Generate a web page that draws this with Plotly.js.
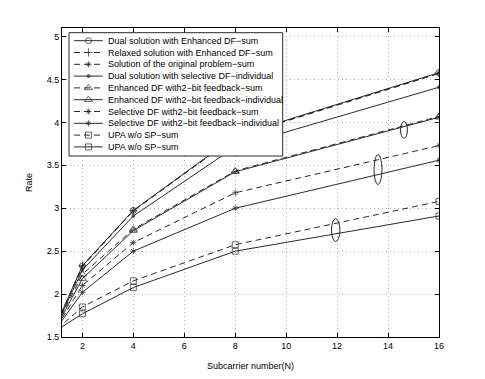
<!DOCTYPE html>
<html>
<head>
<meta charset="utf-8">
<script src="https://cdn.plot.ly/plotly-3.0.1.min.js"></script>
<style>html,body{margin:0;padding:0;background:#fff;}#chart{width:485px;height:379px;}</style>
</head>
<body>
<div id="chart"></div>
<script>
// ---- data ----
const subcarriers = [1, 2, 4, 8, 16];
const dualEnhSum    = [1.66, 2.33, 2.975, 3.84, 4.58];
const relaxedEnhSum = [1.66, 2.33, 2.97, 3.835, 4.575];
const originalSum   = [1.66, 2.32, 2.97, 3.83, 4.57];
const dualSelInd    = [1.65, 2.28, 2.91, 3.715, 4.41];
const enh2bitSum    = [1.64, 2.23, 2.755, 3.435, 4.07];
const enh2bitInd    = [1.63, 2.18, 2.74, 3.425, 4.06];
const sel2bitSum    = [1.62, 2.10, 2.60, 3.18, 3.73];
const sel2bitInd    = [1.61, 2.02, 2.50, 3.00, 3.56];
const upaSumA       = [1.59, 1.85, 2.154, 2.575, 3.08];
const upaSumB       = [1.58, 1.77, 2.076, 2.50, 2.91];
const seriesNames = [
  "Dual solution with Enhanced DF\u2212sum",
  "Relaxed solution with Enhanced DF\u2212sum",
  "Solution of the original problem\u2212sum",
  "Dual solution with selective DF\u2212individual",
  "Enhanced DF with2\u2212bit feedback\u2212sum",
  "Enhanced DF with2\u2212bit feedback\u2212individual",
  "Selective DF with2\u2212bit feedback\u2212sum",
  "Selective DF with2\u2212bit feedback\u2212individual",
  "UPA w/o SP\u2212sum",
  "UPA w/o SP\u2212sum"
];
const seriesValues = [dualEnhSum, relaxedEnhSum, originalSum, dualSelInd, enh2bitSum, enh2bitInd, sel2bitSum, sel2bitInd, upaSumA, upaSumB];
const xTicks = [2, 4, 6, 8, 10, 12, 14, 16];
// ellipse annotations: [x0, x1, y0, y1] in data units
const ellipses = [
  [14.49, 14.76, 3.815, 4.01],
  [13.45, 13.76, 3.276, 3.626],
  [11.78, 12.11, 2.613, 2.878]
];

// ---- styles ----
const INK = '#2a2a2a';
const FONT = 'Liberation Sans, Arial, Helvetica, sans-serif';
const symbols = ['circle-open','cross-thin-open','asterisk-open','circle','triangle-up-open','triangle-up-open','asterisk-open','asterisk-open','square-open','square-open'];
const msizes  = [6, 6, 5, 3, 7, 7, 5, 5, 6, 6];
const dashes  = ['solid','6px,4px','6px,4px','solid','6px,4px','solid','6px,4px','solid','6px,4px','solid'];

const traces = [];
seriesValues.forEach((vals, i) => {
  traces.push({
    x: subcarriers, y: vals, type: 'scatter', mode: 'lines+markers',
    name: seriesNames[i],
    line: {color: INK, width: 1, dash: dashes[i]},
    marker: {symbol: symbols[i], color: INK, size: subcarriers.map(n => n === 1 ? 0 : msizes[i]), line: {color: INK, width: 1}},
    cliponaxis: true, hoverinfo: 'skip'
  });
});

// ---- custom legend on hidden pixel-unit axes ----
const LB = {l: 69, r: 282.7, t: 32.7, b: 156};
traces.push({
  x: [LB.l, LB.r, LB.r, LB.l, LB.l], y: [LB.t, LB.t, LB.b, LB.b, LB.t],
  xaxis: 'x2', yaxis: 'y2', type: 'scatter', mode: 'lines', fill: 'toself',
  fillcolor: '#ffffff', line: {color: INK, width: 1}, hoverinfo: 'skip'
});
const annotations = [];
seriesNames.forEach((nm, i) => {
  const yy = 40.7 + i * 11.8;
  traces.push({
    x: [74, 88.5, 102.7], y: [yy, yy, yy], xaxis: 'x2', yaxis: 'y2',
    type: 'scatter', mode: 'lines+markers',
    line: {color: INK, width: 1, dash: dashes[i]},
    marker: {symbol: symbols[i], color: INK, size: [0, msizes[i], 0], line: {color: INK, width: 1}},
    hoverinfo: 'skip'
  });
  annotations.push({
    x: 105.7, y: yy, xref: 'x2', yref: 'y2', text: nm, showarrow: false,
    xanchor: 'left', yanchor: 'middle', font: {family: FONT, size: 9, color: '#000'}
  });
});

const shapes = ellipses.map(e => ({
  type: 'circle', xref: 'x', yref: 'y', x0: e[0], x1: e[1], y0: e[2], y1: e[3],
  line: {color: INK, width: 1}, layer: 'above'
}));

const layout = {
  width: 485, height: 379,
  margin: {l: 62, r: 46, t: 28, b: 42},
  paper_bgcolor: '#fff', plot_bgcolor: '#fff',
  showlegend: false, hovermode: false,
  font: {family: FONT, size: 9, color: '#000'},
  xaxis: {
    range: [1.2, 16], tickvals: xTicks, ticktext: xTicks.map(String),
    ticks: 'inside', ticklen: 4, tickcolor: '#000', showline: true, linecolor: '#000', linewidth: 1,
    mirror: 'ticks', showgrid: true, gridcolor: '#b5b5b5', griddash: '1px,3px', gridwidth: 1, zeroline: false,
    tickfont: {family: FONT, size: 9, color: '#000'},
    title: {text: 'Subcarrier number(N)', font: {family: FONT, size: 9, color: '#000'}, standoff: 12}
  },
  yaxis: {
    range: [1.5, 5.1], tick0: 1.5, dtick: 0.5,
    ticks: 'inside', ticklen: 4, tickcolor: '#000', showline: true, linecolor: '#000', linewidth: 1,
    mirror: 'ticks', showgrid: true, gridcolor: '#b5b5b5', griddash: '1px,3px', gridwidth: 1, zeroline: false,
    tickfont: {family: FONT, size: 9, color: '#000'},
    title: {text: 'Rate', font: {family: FONT, size: 9, color: '#000'}, standoff: 12}
  },
  xaxis2: {overlaying: 'x', range: [62, 439], visible: false, fixedrange: true},
  yaxis2: {overlaying: 'y', range: [337, 28], visible: false, fixedrange: true},
  annotations: annotations,
  shapes: shapes
};

Plotly.newPlot('chart', traces, layout, {staticPlot: true, displayModeBar: false});
</script>
</body>
</html>
